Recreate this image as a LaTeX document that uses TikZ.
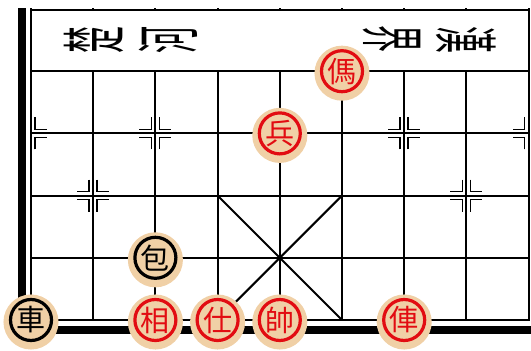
\documentclass[tikz,border=0pt]{standalone}
\usepackage{fontspec}
\newfontfamily\cjk{Noto Sans CJK TC}
\usepackage{tikz}
\definecolor{piecebeige}{RGB}{240,208,166}
\definecolor{piecered}{RGB}{226,12,18}

\begin{document}
\begin{tikzpicture}[
  x=1pt, y=-1pt,
  gridline/.style={line width=2pt},
  frameline/.style={line width=7.5pt},
  flower/.style={line width=1.6pt},
  riverword/.style={font=\cjk\fontsize{27}{27}\selectfont, inner sep=0pt, yscale=2.4},
  piece/.style={circle, draw=#1, text=#1, line width=3.2pt, minimum size=41pt, inner sep=0pt,
    font=\cjk\fontsize{29}{29}\selectfont,
    preaction={draw=piecebeige, fill=piecebeige, line width=14pt, transform canvas={yshift=-2pt}}}
]
\useasboundingbox (0,0) rectangle (531,351);
\clip (0,0) rectangle (531,351);

% board lines
\draw[frameline] (22,8) -- (22,330) -- (540,330);
\foreach \j in {0,...,4}
  \draw[gridline, line cap=rect] (31,{320-\j*62.2}) -- (528.6,{320-\j*62.2});
\draw[gridline, line cap=rect] (31,10) -- (528.6,10);
\foreach \i in {1,...,7} {
  \draw[gridline] ({31+\i*62.2},71.2) -- ({31+\i*62.2},320);
  \draw[gridline] ({31+\i*62.2},8) -- ({31+\i*62.2},10);
}
\foreach \i in {0,8}
  \draw[gridline] ({31+\i*62.2},8) -- ({31+\i*62.2},320);

% palace
\draw[gridline] ({31+3*62.2},{320-2*62.2}) -- ({31+5*62.2},320);
\draw[gridline] ({31+5*62.2},{320-2*62.2}) -- ({31+3*62.2},320);

% position marks
\foreach \i/\j/\sl/\sr in {1/2/-1/1, 7/2/-1/1, 2/3/-1/1, 4/3/-1/1, 6/3/-1/1, 0/3/1/1, 8/3/-1/-1}
  \foreach \sx in {\sl,\sr}
    \foreach \sy in {-1,1}
      \draw[flower] ({31+\i*62.2+\sx*4},{320-\j*62.2+\sy*16})
        -- ({31+\i*62.2+\sx*4},{320-\j*62.2+\sy*4})
        -- ({31+\i*62.2+\sx*16},{320-\j*62.2+\sy*4});

% river
\node[rotate=90, riverword] (chu) at (94,40) {楚};
\node[rotate=90, riverword] (he) at (168,40) {河};
\node[rotate=-90, riverword] (jie) at (392,39) {界};
\node[rotate=-90, riverword] (han) at (466,40) {漢};

% pieces
\foreach \name/\i/\j/\ch/\col in {
    horse/5/4/傌/piecered, pawn/4/3/兵/piecered, cannon/2/1/包/black,
    blackrook/0/0/車/black, elephant/2/0/相/piecered, advisor/3/0/仕/piecered,
    king/4/0/帥/piecered, redrook/6/0/俥/piecered}
  \node[piece=\col] (\name) at ({31+\i*62.2},{320-\j*62.2}) {\ch};
\end{tikzpicture}
\end{document}
